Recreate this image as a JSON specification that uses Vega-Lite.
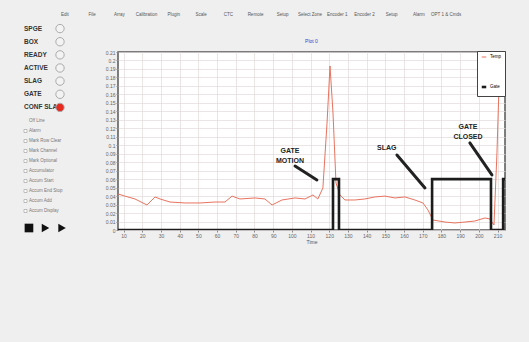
{
  "$schema": "https://vega.github.io/schema/vega-lite/v6.json",
  "background": "#efefef",
  "padding": {"left": 22, "top": 10, "right": 23, "bottom": 99},
  "spacing": 2,
  "config": {
    "font": "Liberation Sans",
    "view": {"stroke": null},
    "axis": {"labelFontSize": 5, "labelColor": "#666", "tickSize": 2, "tickColor": "#888", "domain": false, "gridColor": "#e2dada", "gridWidth": 0.7, "labelPadding": 1, "labelOverlap": false, "tickCount": 40}
  },
  "datasets": {
    "menu": [
      {"item": "Edit"}, {"item": "File"}, {"item": "Array"}, {"item": "Calibration"}, {"item": "Plugin"},
      {"item": "Scale"}, {"item": "CTC"}, {"item": "Remote"}, {"item": "Setup"}, {"item": "Select Zone"},
      {"item": "Encoder 1"}, {"item": "Encoder 2"}, {"item": "Setup "}, {"item": "Alarm"}, {"item": "OPT 1 & Cmds"}
    ],
    "status": [
      {"label": "SPGE", "state": "off"},
      {"label": "BOX", "state": "off"},
      {"label": "READY", "state": "off"},
      {"label": "ACTIVE", "state": "off"},
      {"label": "SLAG", "state": "off"},
      {"label": "GATE", "state": "off"},
      {"label": "CONF SLAG", "state": "on"}
    ],
    "options": [
      {"label": "Off Line", "box": false},
      {"label": "Alarm", "box": true},
      {"label": "Mark Row Clear", "box": true},
      {"label": "Mark Channel", "box": true},
      {"label": "Mark Optional", "box": true},
      {"label": "Accumulator", "box": true},
      {"label": "Accum Start", "box": true},
      {"label": "Accum End Stop", "box": true},
      {"label": "Accum Add", "box": true},
      {"label": "Accum Display", "box": true}
    ],
    "buttons": [
      {"name": "stop", "shape": "square"},
      {"name": "play", "shape": "triangle-right"},
      {"name": "fast", "shape": "triangle-right"}
    ],
    "plottitle": [{"label": "Plot 0"}],
    "lines": [
      {"series": "Temp", "i": 1, "t": 7, "v": 0.0425},
      {"series": "Temp", "i": 2, "t": 10.7, "v": 0.040},
      {"series": "Temp", "i": 3, "t": 16.1, "v": 0.0366},
      {"series": "Temp", "i": 4, "t": 22.5, "v": 0.0295},
      {"series": "Temp", "i": 5, "t": 26.8, "v": 0.039},
      {"series": "Temp", "i": 6, "t": 29.5, "v": 0.0366},
      {"series": "Temp", "i": 7, "t": 34.8, "v": 0.033},
      {"series": "Temp", "i": 8, "t": 42.8, "v": 0.0319},
      {"series": "Temp", "i": 9, "t": 50.9, "v": 0.0319},
      {"series": "Temp", "i": 10, "t": 58.9, "v": 0.033},
      {"series": "Temp", "i": 11, "t": 64.2, "v": 0.033},
      {"series": "Temp", "i": 12, "t": 68, "v": 0.040},
      {"series": "Temp", "i": 13, "t": 72.2, "v": 0.0366},
      {"series": "Temp", "i": 14, "t": 80.3, "v": 0.0378},
      {"series": "Temp", "i": 15, "t": 85.6, "v": 0.0366},
      {"series": "Temp", "i": 16, "t": 89.4, "v": 0.0295},
      {"series": "Temp", "i": 17, "t": 94.7, "v": 0.0354},
      {"series": "Temp", "i": 18, "t": 101.7, "v": 0.0378},
      {"series": "Temp", "i": 19, "t": 107, "v": 0.0366},
      {"series": "Temp", "i": 20, "t": 111.3, "v": 0.0413},
      {"series": "Temp", "i": 21, "t": 113.9, "v": 0.0366},
      {"series": "Temp", "i": 22, "t": 116.6, "v": 0.0496},
      {"series": "Temp", "i": 23, "t": 118.8, "v": 0.126},
      {"series": "Temp", "i": 24, "t": 120.4, "v": 0.1935},
      {"series": "Temp", "i": 25, "t": 122, "v": 0.138},
      {"series": "Temp", "i": 26, "t": 123.6, "v": 0.0555},
      {"series": "Temp", "i": 27, "t": 125.7, "v": 0.0413},
      {"series": "Temp", "i": 28, "t": 128.4, "v": 0.0354},
      {"series": "Temp", "i": 29, "t": 133.7, "v": 0.0354},
      {"series": "Temp", "i": 30, "t": 139, "v": 0.0366},
      {"series": "Temp", "i": 31, "t": 144.4, "v": 0.039},
      {"series": "Temp", "i": 32, "t": 149.8, "v": 0.040},
      {"series": "Temp", "i": 33, "t": 155.1, "v": 0.0378},
      {"series": "Temp", "i": 34, "t": 160.5, "v": 0.039},
      {"series": "Temp", "i": 35, "t": 165.8, "v": 0.0354},
      {"series": "Temp", "i": 36, "t": 170.1, "v": 0.0319},
      {"series": "Temp", "i": 37, "t": 172.8, "v": 0.0236},
      {"series": "Temp", "i": 38, "t": 175.4, "v": 0.0118},
      {"series": "Temp", "i": 39, "t": 181.9, "v": 0.0094},
      {"series": "Temp", "i": 40, "t": 187.2, "v": 0.0083},
      {"series": "Temp", "i": 41, "t": 192.6, "v": 0.0094},
      {"series": "Temp", "i": 42, "t": 197.9, "v": 0.0106},
      {"series": "Temp", "i": 43, "t": 203.3, "v": 0.0142},
      {"series": "Temp", "i": 44, "t": 205.9, "v": 0.013},
      {"series": "Temp", "i": 45, "t": 208.1, "v": 0.0059},
      {"series": "Temp", "i": 46, "t": 209.7, "v": 0.091},
      {"series": "Temp", "i": 47, "t": 211.5, "v": 0.22},
      {"series": "Gate", "i": 1, "t": 7, "v": 0},
      {"series": "Gate", "i": 2, "t": 122, "v": 0},
      {"series": "Gate", "i": 3, "t": 122, "v": 0.06},
      {"series": "Gate", "i": 4, "t": 125.2, "v": 0.06},
      {"series": "Gate", "i": 5, "t": 125.2, "v": 0},
      {"series": "Gate", "i": 6, "t": 175, "v": 0},
      {"series": "Gate", "i": 7, "t": 175, "v": 0.06},
      {"series": "Gate", "i": 8, "t": 206.5, "v": 0.06},
      {"series": "Gate", "i": 9, "t": 206.5, "v": 0},
      {"series": "Gate", "i": 10, "t": 213, "v": 0},
      {"series": "Gate", "i": 11, "t": 213, "v": 0.06},
      {"series": "Gate", "i": 12, "t": 214, "v": 0.06}
    ],
    "notes": [
      {"label": "GATE\nMOTION", "t": 99, "v": 0.093},
      {"label": "SLAG", "t": 150.8, "v": 0.0968},
      {"label": "GATE\nCLOSED", "t": 194.2, "v": 0.122}
    ],
    "arrows": [
      {"t": 101.7, "v": 0.0755, "t2": 113.4, "v2": 0.059},
      {"t": 156.2, "v": 0.0885, "t2": 171.2, "v2": 0.0496},
      {"t": 195.2, "v": 0.1027, "t2": 207, "v2": 0.065}
    ]
  },
  "vconcat": [
    {
      "width": 463,
      "height": 10,
      "data": {"name": "menu"},
      "mark": {"type": "text", "fontSize": 4.5, "color": "#555"},
      "encoding": {
        "x": {"field": "item", "type": "nominal", "sort": null, "axis": null, "scale": {"type": "band", "paddingInner": 0, "paddingOuter": 1.95}},
        "text": {"field": "item"}
      }
    },
    {
      "spacing": 37,
      "hconcat": [
        {
          "spacing": 2,
          "vconcat": [
            {
              "width": 36,
              "height": 92,
              "data": {"name": "status"},
              "layer": [
                {
                  "mark": {"type": "text", "align": "left", "baseline": "middle", "fontSize": 6.5, "fontWeight": "bold", "color": "#333"},
                  "encoding": {
                    "x": {"datum": 0, "type": "quantitative", "scale": {"domain": [0, 1]}, "axis": null},
                    "y": {"field": "label", "type": "nominal", "sort": null, "axis": null},
                    "text": {"field": "label"}
                  }
                },
                {
                  "mark": {"type": "circle", "size": 70, "stroke": "#aaa", "strokeWidth": 1, "opacity": 1},
                  "encoding": {
                    "x": {"datum": 1, "type": "quantitative", "scale": {"domain": [0, 1]}, "axis": null},
                    "y": {"field": "label", "type": "nominal", "sort": null, "axis": null},
                    "fill": {"field": "state", "type": "nominal", "scale": {"domain": ["off", "on"], "range": ["#f3f3f3", "#e62a1e"]}, "legend": null}
                  }
                }
              ]
            },
            {
              "width": 38,
              "height": 100,
              "data": {"name": "options"},
              "layer": [
                {
                  "mark": {"type": "square", "size": 9, "fill": "white", "stroke": "#999", "strokeWidth": 0.6},
                  "encoding": {
                    "x": {"datum": 1.5, "type": "quantitative", "scale": {"domain": [0, 38]}, "axis": null},
                    "y": {"field": "label", "type": "nominal", "sort": null, "axis": null},
                    "opacity": {"condition": {"test": "datum.box", "value": 1}, "value": 0}
                  }
                },
                {
                  "mark": {"type": "text", "align": "left", "baseline": "middle", "fontSize": 4.5, "color": "#777"},
                  "encoding": {
                    "x": {"datum": 5, "type": "quantitative", "scale": {"domain": [0, 38]}, "axis": null},
                    "y": {"field": "label", "type": "nominal", "sort": null, "axis": null},
                    "text": {"field": "label"}
                  }
                }
              ]
            },
            {
              "width": 43,
              "height": 20,
              "data": {"name": "buttons"},
              "mark": {"type": "point", "filled": true, "size": 75, "color": "#111", "opacity": 1},
              "encoding": {
                "x": {"field": "name", "type": "nominal", "sort": null, "axis": null, "scale": {"type": "point", "padding": 0.3}},
                "shape": {"field": "shape", "type": "nominal", "scale": null, "legend": null}
              }
            }
          ]
        },
        {
          "spacing": 5,
          "vconcat": [
            {
              "width": 387,
              "height": 22,
              "data": {"name": "plottitle"},
              "mark": {"type": "text", "fontSize": 5, "color": "#3344cc", "baseline": "bottom"},
              "encoding": {
                "y": {"datum": 0, "type": "quantitative", "scale": {"domain": [0, 1]}, "axis": null},
                "text": {"field": "label"}
              }
            },
            {
              "width": 387,
              "height": 178,
              "view": {"fill": "white", "stroke": "#555", "strokeWidth": 1.5},
              "layer": [
                {
                  "data": {"name": "lines"},
                  "mark": {"type": "line", "clip": true},
                  "encoding": {
                    "x": {"field": "t", "type": "quantitative", "scale": {"domain": [7, 214], "nice": false, "zero": false}, "axis": {"values": [10,20,30,40,50,60,70,80,90,100,110,120,130,140,150,160,170,180,190,200,210], "title": "Time", "titleFontSize": 5, "titleFontWeight": "normal", "titleColor": "#555", "titlePadding": 1}},
                    "y": {"field": "v", "type": "quantitative", "scale": {"domain": [0, 0.21], "nice": false}, "axis": {"values": [0,0.01,0.02,0.03,0.04,0.05,0.06,0.07,0.08,0.09,0.1,0.11,0.12,0.13,0.14,0.15,0.16,0.17,0.18,0.19,0.2,0.21], "format": ".2~f", "title": null}},
                    "color": {"field": "series", "type": "nominal", "scale": {"domain": ["Temp", "Gate"], "range": ["#e8735f", "#1c1c1c"]}, "legend": {"orient": "none", "legendX": 453, "legendY": 41, "title": null, "fillColor": "white", "strokeColor": "#444", "padding": 3, "labelFontSize": 4.5, "labelOffset": 2, "symbolType": "stroke", "symbolSize": 20, "rowPadding": 22}},
                    "strokeWidth": {"field": "series", "type": "nominal", "scale": {"domain": ["Temp", "Gate"], "range": [1, 2.6]}, "legend": null},
                    "order": {"field": "i", "type": "quantitative"}
                  }
                },
                {
                  "data": {"name": "arrows"},
                  "mark": {"type": "rule", "strokeWidth": 3, "color": "#222", "strokeCap": "round"},
                  "encoding": {
                    "x": {"field": "t", "type": "quantitative"},
                    "y": {"field": "v", "type": "quantitative"},
                    "x2": {"field": "t2"},
                    "y2": {"field": "v2"}
                  }
                },
                {
                  "data": {"name": "notes"},
                  "mark": {"type": "text", "fontSize": 7, "fontWeight": "bold", "color": "#222", "lineBreak": "\n", "baseline": "middle", "lineHeight": 10},
                  "encoding": {
                    "x": {"field": "t", "type": "quantitative"},
                    "y": {"field": "v", "type": "quantitative"},
                    "text": {"field": "label"}
                  }
                }
              ]
            }
          ]
        }
      ]
    }
  ]
}
